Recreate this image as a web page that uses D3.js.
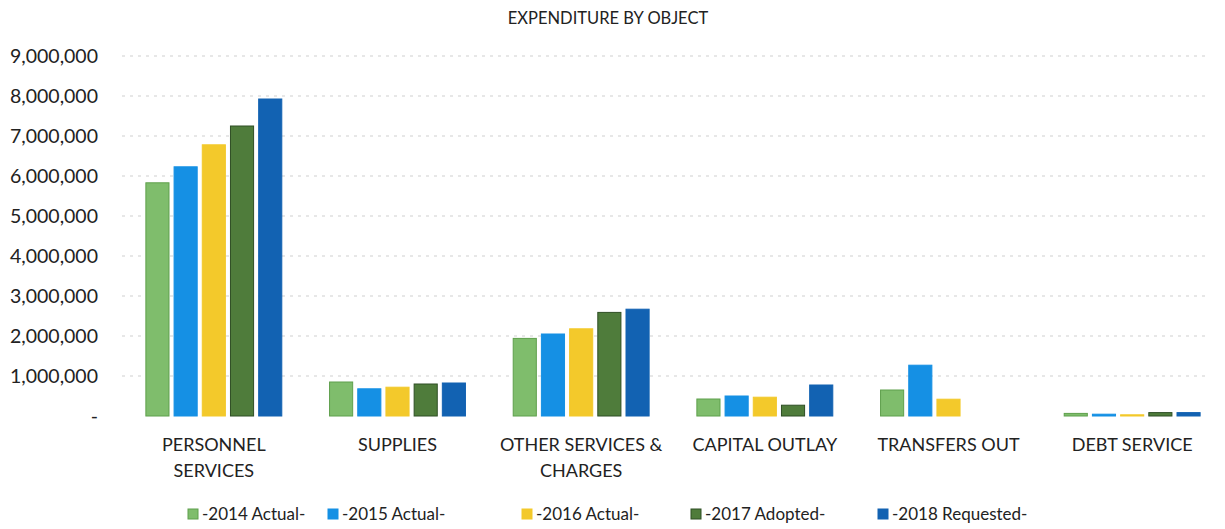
<!DOCTYPE html>
<html><head><meta charset="utf-8">
<script src="https://cdn.jsdelivr.net/npm/d3@7"></script>
<style>body{margin:0;background:#fff}svg{display:block}</style>
</head><body><svg id="c" width="1225" height="529"></svg>
<script>
const categories = [["PERSONNEL","SERVICES"],["SUPPLIES"],["OTHER SERVICES &","CHARGES"],["CAPITAL OUTLAY"],["TRANSFERS OUT"],["DEBT SERVICE"]];
const seriesNames = ["-2014 Actual-","-2015 Actual-","-2016 Actual-","-2017 Adopted-","-2018 Requested-"];
const v2014 = [5830000, 850000, 1940000, 425000, 650000, 65000];
const v2015 = [6230000, 680000, 2050000, 500000, 1270000, 45000];
const v2016 = [6780000, 720000, 2180000, 470000, 420000, 30000];
const v2017 = [7250000, 800000, 2590000, 270000, 0, 85000];
const v2018 = [7925000, 825000, 2670000, 775000, 0, 85000];
const yTicks = [0,1000000,2000000,3000000,4000000,5000000,6000000,7000000,8000000,9000000];
const colors = ["#7fbd6c","#1590e4","#f3c92b","#4f7c3b","#1262b2"];
const strokes = ["#5fa04c","#1590e4","#f3c92b","#2f4f25","#1262b2"];
const values = [v2014,v2015,v2016,v2017,v2018];

const svg = d3.select("#c");
const font = "Lato, 'Open Sans', sans-serif";
const catKeys = categories.map(d=>d.join(" "));
const x0 = d3.scaleBand().domain(catKeys).range([122,1224]).paddingInner(0.26).paddingOuter(0.13);
const x1 = d3.scaleBand().domain(d3.range(seriesNames.length)).range([0,x0.bandwidth()]).paddingInner(0.18);
const y = d3.scaleLinear().domain([0,9000000]).range([416,56]);

svg.append("text").attr("x",608).attr("y",24).attr("text-anchor","middle")
  .attr("font-family",font).attr("font-size",16.5).attr("fill","#222").text("EXPENDITURE BY OBJECT");

// gridlines
svg.append("g").selectAll("line").data(yTicks.filter(d=>d>0)).join("line")
  .attr("x1",122).attr("x2",1210).attr("y1",d=>y(d)).attr("y2",d=>y(d))
  .attr("stroke","#cfcfcf").attr("stroke-width",1).attr("stroke-dasharray","3,5");

// y axis
const yAxis = d3.axisLeft(y).tickValues(yTicks).tickSize(0).tickPadding(0)
  .tickFormat(d=> d===0 ? "-" : d3.format(",")(d));
const ya = svg.append("g").attr("transform","translate(98,0)").call(yAxis);
ya.select(".domain").remove();
ya.selectAll("text").attr("font-family",font).attr("font-size",19.5).attr("fill","#222").attr("dy","0.35em");

// bars
const groups = svg.append("g").selectAll("g").data(catKeys).join("g")
  .attr("transform",d=>`translate(${x0(d)},0)`);
groups.selectAll("rect").data((d,i)=>values.map((s,j)=>({j,v:s[i]}))).join("rect")
  .filter(d=>d.v>0)
  .attr("x",d=>x1(d.j)).attr("width",x1.bandwidth())
  .attr("y",d=>y(d.v)).attr("height",d=>y(0)-y(d.v))
  .attr("fill",d=>colors[d.j]).attr("stroke",d=>strokes[d.j]).attr("stroke-width",1);

// x axis labels
const xl = svg.append("g");
categories.forEach((lines,i)=>{
  const t = xl.append("text").attr("x",x0(catKeys[i])+x0.bandwidth()/2).attr("y",451)
    .attr("text-anchor","middle").attr("font-family",font).attr("font-size",18).attr("fill","#222");
  lines.forEach((ln,k)=>t.append("tspan").attr("x",x0(catKeys[i])+x0.bandwidth()/2).attr("dy",k?26:0).text(ln));
});

// legend
const legX = [188,328,522,691,878];
const lg = svg.append("g").selectAll("g").data(seriesNames).join("g")
  .attr("transform",(d,i)=>`translate(${legX[i]},514)`);
lg.append("rect").attr("x",0).attr("y",-5).attr("width",10).attr("height",10)
  .attr("fill",(d,i)=>colors[i]).attr("stroke",(d,i)=>strokes[i]);
lg.append("text").attr("x",14).attr("y",0).attr("dy","0.35em").attr("font-family",font)
  .attr("font-size",17).attr("fill","#222").text(d=>d);
</script></body></html>
